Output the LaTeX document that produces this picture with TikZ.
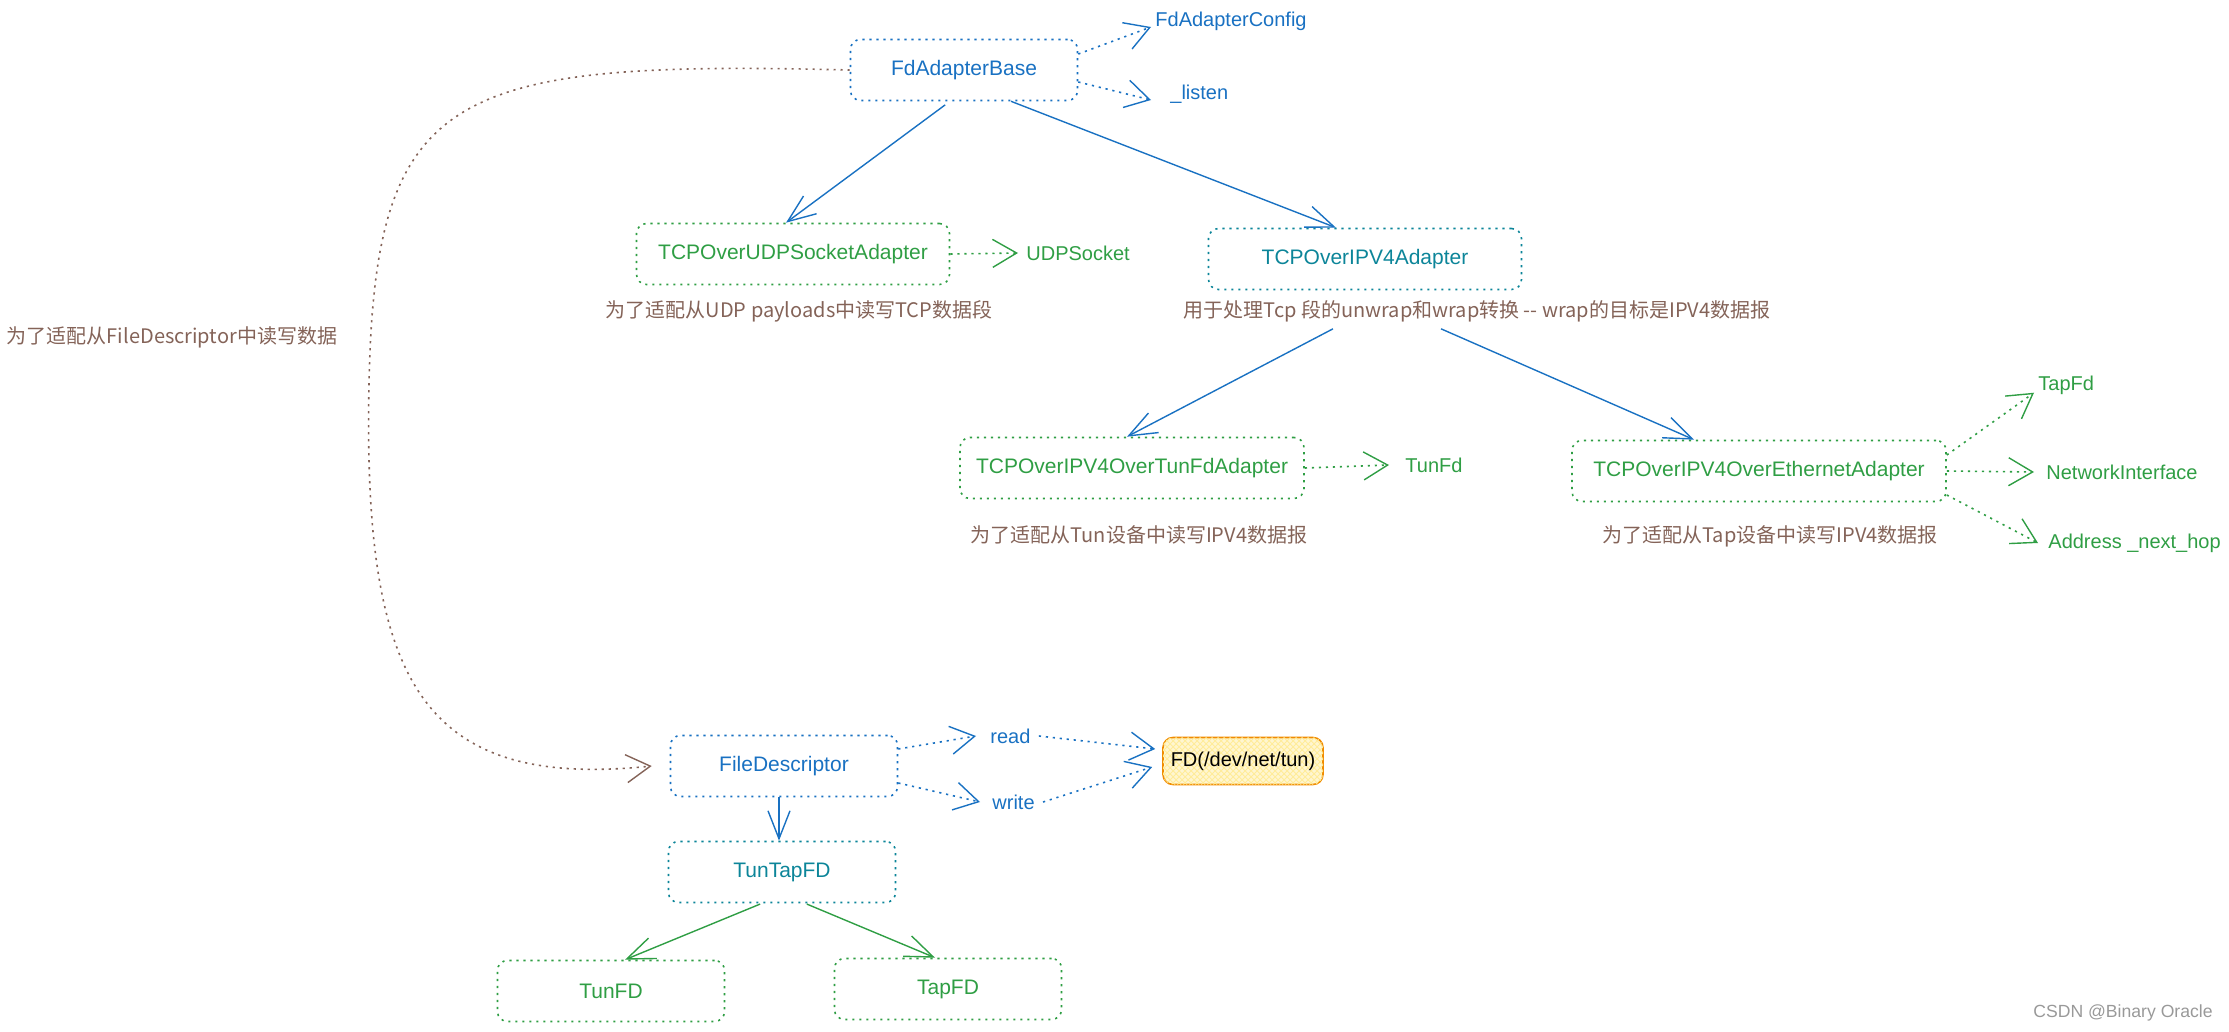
\documentclass[tikz,border=0pt]{standalone}
\usepackage{fontspec}
\setmainfont{Liberation Sans}
\newfontfamily\cjk{Noto Sans CJK SC}
\usetikzlibrary{arrows.meta,patterns}
\definecolor{exblue}{HTML}{1971C2}
\definecolor{exgreen}{HTML}{2F9E44}
\definecolor{excyan}{HTML}{0C8599}
\definecolor{exbrown}{HTML}{846358}
\definecolor{exorange}{HTML}{F08C00}
\definecolor{exyellow}{HTML}{FFEC99}
\tikzset{
  dots/.style={line width=0.8pt, dash pattern=on 1.1pt off 2.4pt},
  cls/.style={draw=#1, text=#1, dots, rounded corners=5pt, minimum height=30.5pt,
    minimum width=113.5pt, font=\fontsize{10.5}{12}\selectfont},
  member/.style={text=#1, anchor=west, inner sep=1pt, font=\fontsize{10}{12}\selectfont},
  note/.style={text=exbrown, font=\cjk\fontsize{10}{12}\selectfont},
  inh/.style={draw=#1, line width=0.7pt, -{Straight Barb[length=14pt,width=11pt]}},
  has/.style={draw=#1, dots, -{Straight Barb[length=12pt,width=14pt,line width=0.7pt]}}
}
\begin{document}
\begin{tikzpicture}[x=0.5pt,y=-0.5pt]
\useasboundingbox (0,0) rectangle (2229,1032);
\node[cls=exblue] (base) at (964,70) {FdAdapterBase};
\node[member=exblue] (cfg) at (1153,21) {FdAdapterConfig};
\node[member=exblue] (listen) at (1168,94) {\_listen};
\node[cls=exgreen, minimum width=156.5pt] (udp) at (793,254) {TCPOverUDPSocketAdapter};
\node[member=exgreen] (udpsock) at (1024,253) {UDPSocket};
\node[note] (udpcap) at (799,311) {为了适配从UDP payloads中读写TCP数据段};
\node[cls=excyan, minimum width=156.5pt] (ipv4) at (1365,259) {TCPOverIPV4Adapter};
\node[note] (ipv4cap) at (1477,311) {用于处理Tcp 段的unwrap和wrap转换 -- wrap的目标是IPV4数据报};
\node[note] (fdcap) at (172,337) {为了适配从FileDescriptor中读写数据};
\node[cls=exgreen, minimum width=172pt] (tunad) at (1132,468) {TCPOverIPV4OverTunFdAdapter};
\node[member=exgreen] (tunfdm) at (1403,465) {TunFd};
\node[note] (tuncap) at (1139,535) {为了适配从Tun设备中读写IPV4数据报};
\node[cls=exgreen, minimum width=187pt] (eth) at (1759,471) {TCPOverIPV4OverEthernetAdapter};
\node[note] (ethcap) at (1770,536) {为了适配从Tap设备中读写IPV4数据报};
\node[member=exgreen] (tapfdm) at (2036,385) {TapFd};
\node[member=exgreen] (netif) at (2044,472) {NetworkInterface};
\node[member=exgreen] (addr) at (2046,543) {Address \_next\_hop};
\node[cls=exblue] (fd) at (784,766) {FileDescriptor};
\node[member=exblue] (read) at (988,736) {read};
\node[member=exblue] (write) at (990,802) {write};
\node[draw=exorange, line width=0.8pt, rounded corners=5pt, fill=exyellow!45,
  postaction={pattern=crosshatch, pattern color=exyellow},
  minimum width=80pt, minimum height=23.5pt, font=\fontsize{10}{12}\selectfont]
  (fdtun) at (1243,761) {FD(/dev/net/tun)};
\node[cls=excyan] (tuntap) at (782,872) {TunTapFD};
\node[cls=exgreen] (tunbox) at (611,991) {TunFD};
\node[cls=exgreen] (tapbox) at (948,989) {TapFD};
\node[text=black!40, font=\fontsize{8.8}{10}\selectfont] (mark) at (2123,1013) {CSDN @Binary Oracle};

\draw[inh=exblue, shorten <=3pt] ([xshift=-7pt]base.south) -- ([xshift=-3.5pt]udp.north);
\draw[inh=exblue] ([xshift=23.5pt]base.south) -- ([xshift=-14.5pt]ipv4.north);
\draw[inh=exblue] ([xshift=-72pt]ipv4cap.south) -- ([xshift=-2.5pt]tunad.north);
\draw[inh=exblue] ([xshift=-18pt]ipv4cap.south) -- ([xshift=-32.5pt]eth.north);
\draw[inh=exblue] ([xshift=-2.5pt]fd.south) -- ([xshift=-1.5pt]tuntap.north);
\draw[inh=exgreen, shorten <=1pt] ([xshift=-10pt]tuntap.south) -- ([xshift=7pt]tunbox.north);
\draw[inh=exgreen, shorten <=1pt] ([xshift=11.5pt]tuntap.south) -- ([xshift=-6.5pt]tapbox.north);

\draw[has=exblue] ([yshift=8pt]base.east) -- ([xshift=-1pt,yshift=-3pt]cfg.west);
\draw[has=exblue] ([yshift=-6pt]base.east) -- ([xshift=-8.5pt,yshift=-3pt]listen.west);
\draw[has=exgreen] (udp.east) -- ([xshift=-3pt]udpsock.west);
\draw[has=exgreen] (tunad.east) -- ([xshift=-7pt]tunfdm.west);
\draw[has=exgreen] ([yshift=8pt]eth.east) -- ([xshift=-1pt,yshift=2pt]tapfdm.south west);
\draw[has=exgreen] (eth.east) -- ([xshift=-5pt]netif.west);
\draw[has=exgreen] ([yshift=-12pt]eth.east) -- ([xshift=-4pt]addr.west);
\draw[has=exblue] ([yshift=8.5pt]fd.east) -- ([xshift=-6pt]read.west);
\draw[has=exblue] ([yshift=-8.5pt]fd.east) -- ([xshift=-5pt]write.west);
\draw[has=exblue] ([xshift=3pt]read.east) -- ([xshift=-3.5pt,yshift=6pt]fdtun.west);
\draw[has=exblue] ([xshift=3pt]write.east) -- ([xshift=-5pt,yshift=-3pt]fdtun.west);
\draw[has=exbrown] (base.west) .. controls (450,60) and (375,90) .. (369,384)
  .. controls (363,680) and (420,790) .. ([xshift=-9pt]fd.west);
\end{tikzpicture}
\end{document}
